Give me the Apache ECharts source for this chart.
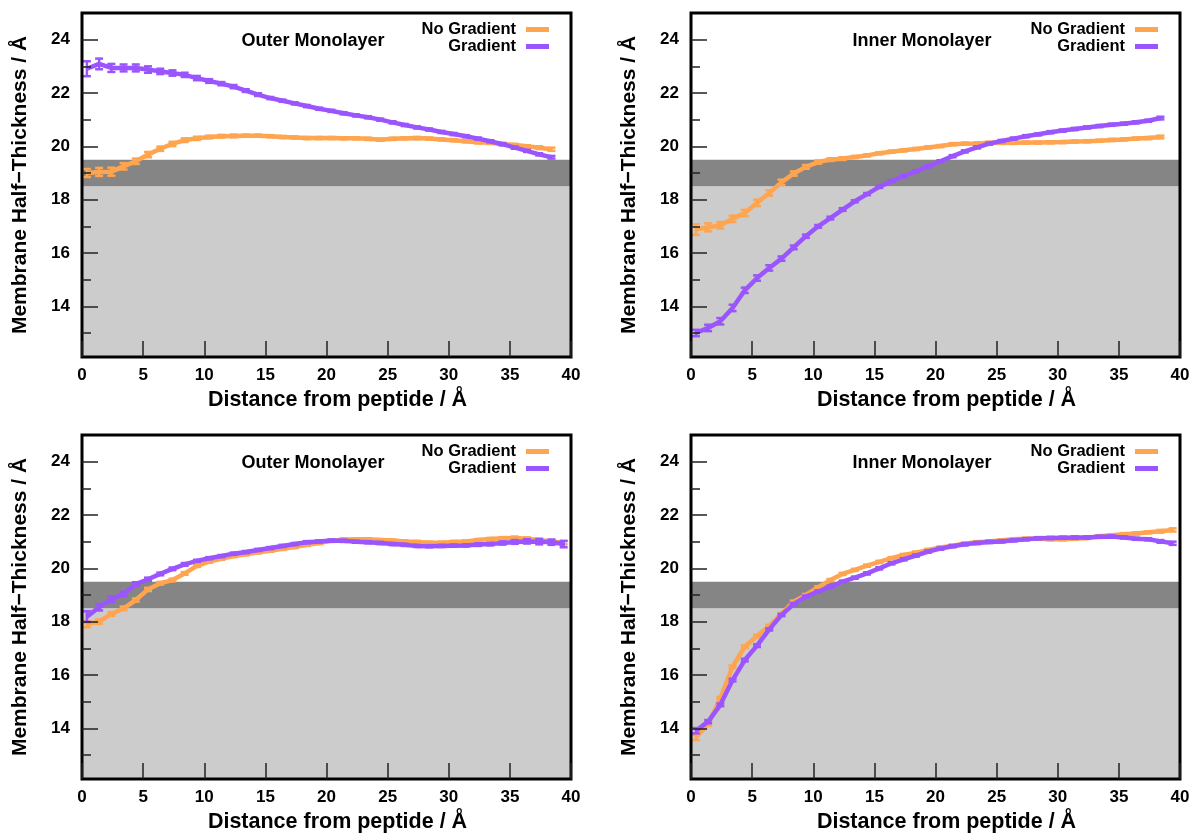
<!DOCTYPE html>
<html>
<head>
<meta charset="utf-8">
<script src="https://cdn.jsdelivr.net/npm/echarts@6/dist/echarts.min.js"></script>
<style>
  html, body { margin: 0; padding: 0; background: #fff; }
  #chart { width: 1195px; height: 836px; }
</style>
</head>
<body>
<div id="chart"></div>
<script>
// distance from peptide (Å), one point per Å
const xTop = [0.4, 1.4, 2.4, 3.4, 4.4, 5.4, 6.4, 7.4, 8.4, 9.4, 10.4, 11.4, 12.4, 13.4, 14.4, 15.4, 16.4, 17.4, 18.4, 19.4,
  20.4, 21.4, 22.4, 23.4, 24.4, 25.4, 26.4, 27.4, 28.4, 29.4, 30.4, 31.4, 32.4, 33.4, 34.4, 35.4, 36.4, 37.4, 38.4];
const xBottom = [0.4, 1.4, 2.4, 3.4, 4.4, 5.4, 6.4, 7.4, 8.4, 9.4, 10.4, 11.4, 12.4, 13.4, 14.4, 15.4, 16.4, 17.4, 18.4, 19.4,
  20.4, 21.4, 22.4, 23.4, 24.4, 25.4, 26.4, 27.4, 28.4, 29.4, 30.4, 31.4, 32.4, 33.4, 34.4, 35.4, 36.4, 37.4, 38.4, 39.4];

// top-left: outer monolayer
const outerNoGrad1 = [19.0, 19.04, 19.05, 19.25, 19.44, 19.69, 19.91, 20.09, 20.23, 20.3, 20.35, 20.38, 20.39, 20.4, 20.4,
  20.38, 20.35, 20.33, 20.31, 20.31, 20.31, 20.3, 20.3, 20.28, 20.25, 20.28, 20.3, 20.31, 20.29, 20.26, 20.23, 20.19,
  20.15, 20.13, 20.09, 20.05, 20.0, 19.95, 19.89];
const outerNoGrad1Err = [0.15, 0.15, 0.15, 0.12, 0.1, 0.1, 0.08, 0.08, 0.07, 0.06, 0.05, 0.05, 0.05, 0.04, 0.04, 0.04,
  0.04, 0.04, 0.04, 0.04, 0.04, 0.04, 0.04, 0.04, 0.04, 0.04, 0.04, 0.04, 0.04, 0.04, 0.04, 0.04, 0.04, 0.04, 0.04,
  0.04, 0.04, 0.05, 0.06];
const outerGrad1 = [22.91, 23.09, 22.94, 22.94, 22.94, 22.88, 22.81, 22.75, 22.68, 22.56, 22.45, 22.35, 22.24, 22.09,
  21.94, 21.81, 21.71, 21.61, 21.51, 21.41, 21.33, 21.24, 21.16, 21.09, 21.0, 20.9, 20.8, 20.71, 20.63, 20.54, 20.46,
  20.38, 20.29, 20.19, 20.08, 19.95, 19.83, 19.7, 19.59];
const outerGrad1Err = [0.28, 0.2, 0.15, 0.13, 0.13, 0.12, 0.1, 0.1, 0.08, 0.08, 0.07, 0.06, 0.06, 0.05, 0.05, 0.04,
  0.04, 0.04, 0.04, 0.04, 0.04, 0.04, 0.04, 0.04, 0.04, 0.04, 0.04, 0.04, 0.04, 0.04, 0.04, 0.04, 0.04, 0.04, 0.04,
  0.04, 0.04, 0.04, 0.05];

// top-right: inner monolayer
const innerNoGrad1 = [16.88, 16.96, 17.04, 17.28, 17.5, 17.88, 18.25, 18.65, 18.98, 19.23, 19.41, 19.5, 19.54, 19.6,
  19.66, 19.74, 19.8, 19.85, 19.9, 19.96, 20.01, 20.08, 20.1, 20.11, 20.13, 20.13, 20.13, 20.14, 20.14, 20.15, 20.16,
  20.18, 20.19, 20.21, 20.24, 20.26, 20.29, 20.31, 20.35];
const innerNoGrad1Err = [0.2, 0.15, 0.12, 0.12, 0.12, 0.12, 0.1, 0.1, 0.08, 0.07, 0.06, 0.05, 0.05, 0.04, 0.04, 0.04,
  0.04, 0.04, 0.04, 0.04, 0.04, 0.04, 0.04, 0.04, 0.04, 0.04, 0.04, 0.04, 0.04, 0.04, 0.04, 0.04, 0.04, 0.04, 0.04,
  0.04, 0.04, 0.04, 0.05];
const innerGrad1 = [13.0, 13.19, 13.44, 13.94, 14.6, 15.06, 15.44, 15.79, 16.21, 16.63, 17.0, 17.31, 17.63, 17.94,
  18.21, 18.48, 18.69, 18.88, 19.06, 19.25, 19.44, 19.63, 19.81, 19.96, 20.1, 20.2, 20.29, 20.38, 20.45, 20.53, 20.59,
  20.65, 20.71, 20.76, 20.81, 20.85, 20.9, 20.96, 21.06];
const innerGrad1Err = [0.12, 0.12, 0.12, 0.12, 0.1, 0.1, 0.1, 0.08, 0.07, 0.06, 0.05, 0.05, 0.05, 0.04, 0.04, 0.04,
  0.04, 0.04, 0.04, 0.04, 0.04, 0.04, 0.04, 0.04, 0.04, 0.04, 0.04, 0.04, 0.04, 0.04, 0.04, 0.04, 0.04, 0.04, 0.04,
  0.04, 0.04, 0.04, 0.05];

// bottom-left: outer monolayer
const outerNoGrad2 = [17.91, 18.0, 18.29, 18.5, 18.81, 19.21, 19.44, 19.56, 19.81, 20.09, 20.25, 20.36, 20.46, 20.53,
  20.6, 20.66, 20.73, 20.8, 20.88, 20.95, 21.03, 21.08, 21.09, 21.09, 21.06, 21.04, 21.01, 20.99, 20.96, 20.96, 20.99,
  21.01, 21.06, 21.1, 21.13, 21.14, 21.11, 21.06, 21.01, 20.96];
const outerNoGrad2Err = [0.12, 0.08, 0.07, 0.07, 0.06, 0.06, 0.05, 0.05, 0.05, 0.04, 0.04, 0.04, 0.04, 0.04, 0.04,
  0.04, 0.04, 0.04, 0.04, 0.04, 0.04, 0.04, 0.04, 0.04, 0.04, 0.04, 0.04, 0.04, 0.04, 0.04, 0.04, 0.04, 0.04, 0.04,
  0.04, 0.05, 0.05, 0.05, 0.05, 0.06];
const outerGrad2 = [18.19, 18.54, 18.84, 19.04, 19.41, 19.59, 19.79, 19.98, 20.15, 20.28, 20.38, 20.46, 20.55, 20.61,
  20.69, 20.76, 20.84, 20.91, 20.98, 21.01, 21.04, 21.03, 21.0, 20.98, 20.95, 20.91, 20.88, 20.84, 20.83, 20.84, 20.85,
  20.86, 20.89, 20.91, 20.95, 20.99, 21.01, 21.0, 20.98, 20.91];
const outerGrad2Err = [0.2, 0.12, 0.1, 0.08, 0.07, 0.06, 0.05, 0.05, 0.05, 0.04, 0.04, 0.04, 0.04, 0.04, 0.04, 0.04,
  0.04, 0.04, 0.04, 0.04, 0.04, 0.04, 0.04, 0.04, 0.04, 0.04, 0.04, 0.04, 0.04, 0.04, 0.04, 0.04, 0.05, 0.05, 0.06,
  0.07, 0.08, 0.1, 0.1, 0.12];

// bottom-right: inner monolayer
const innerNoGrad2 = [13.66, 14.16, 15.13, 16.31, 17.06, 17.46, 17.84, 18.29, 18.75, 19.0, 19.29, 19.56, 19.79, 19.94,
  20.1, 20.24, 20.38, 20.5, 20.59, 20.69, 20.78, 20.85, 20.93, 20.98, 21.01, 21.05, 21.09, 21.11, 21.11, 21.09, 21.09,
  21.11, 21.14, 21.2, 21.24, 21.28, 21.31, 21.35, 21.39, 21.44];
const innerNoGrad2Err = [0.1, 0.06, 0.05, 0.05, 0.05, 0.05, 0.04, 0.04, 0.04, 0.04, 0.04, 0.04, 0.04, 0.04, 0.04, 0.04,
  0.04, 0.04, 0.04, 0.04, 0.04, 0.04, 0.04, 0.04, 0.04, 0.04, 0.04, 0.04, 0.04, 0.04, 0.04, 0.04, 0.04, 0.04, 0.04,
  0.04, 0.04, 0.04, 0.05, 0.06];
const innerGrad2 = [13.91, 14.25, 14.88, 15.81, 16.56, 17.1, 17.71, 18.25, 18.66, 18.94, 19.13, 19.31, 19.5, 19.65,
  19.81, 20.0, 20.19, 20.34, 20.48, 20.63, 20.74, 20.83, 20.9, 20.95, 20.99, 21.01, 21.05, 21.09, 21.13, 21.14, 21.15,
  21.16, 21.16, 21.18, 21.19, 21.16, 21.11, 21.09, 21.01, 20.94];
const innerGrad2Err = [0.1, 0.06, 0.05, 0.05, 0.05, 0.05, 0.04, 0.04, 0.04, 0.04, 0.04, 0.04, 0.04, 0.04, 0.04, 0.04,
  0.04, 0.04, 0.04, 0.04, 0.04, 0.04, 0.04, 0.04, 0.04, 0.04, 0.04, 0.04, 0.04, 0.04, 0.04, 0.04, 0.04, 0.04, 0.04,
  0.04, 0.04, 0.04, 0.05, 0.06];

const yMajorTicks = [14, 16, 18, 20, 22, 24];
const yMinorTicks = [13, 15, 17, 19, 21, 23];
const bandLight = [12.1, 18.5];
const bandDark = [18.5, 19.5];

const ORANGE = '#ffa54f';
const PURPLE = '#9a55ff';
const FONT = 'Liberation Sans, Arial, Helvetica, sans-serif';

const panels = [
  { left: 82, top: 13, title: 'Outer Monolayer', x: xTop, noGrad: outerNoGrad1, noGradErr: outerNoGrad1Err, grad: outerGrad1, gradErr: outerGrad1Err },
  { left: 691, top: 13, title: 'Inner Monolayer', x: xTop, noGrad: innerNoGrad1, noGradErr: innerNoGrad1Err, grad: innerGrad1, gradErr: innerGrad1Err },
  { left: 82, top: 435, title: 'Outer Monolayer', x: xBottom, noGrad: outerNoGrad2, noGradErr: outerNoGrad2Err, grad: outerGrad2, gradErr: outerGrad2Err },
  { left: 691, top: 435, title: 'Inner Monolayer', x: xBottom, noGrad: innerNoGrad2, noGradErr: innerNoGrad2Err, grad: innerGrad2, gradErr: innerGrad2Err }
];
const W = 489, H = 344;

function errorBars(params, api) {
  const x = api.value(0), y = api.value(1), e = api.value(2);
  const lo = api.coord([x, y - e]);
  const hi = api.coord([x, y + e]);
  const c = api.visual('color');
  const cap = 4;
  const st = { stroke: c, lineWidth: 2.5 };
  return {
    type: 'group',
    children: [
      { type: 'line', shape: { x1: lo[0], y1: lo[1], x2: hi[0], y2: hi[1] }, style: st },
      { type: 'line', shape: { x1: lo[0] - cap, y1: lo[1], x2: lo[0] + cap, y2: lo[1] }, style: st },
      { type: 'line', shape: { x1: hi[0] - cap, y1: hi[1], x2: hi[0] + cap, y2: hi[1] }, style: st }
    ]
  };
}

const grid = [], xAxis = [], yAxis = [], series = [], legend = [], graphic = [];

panels.forEach((p, k) => {
  grid.push({
    left: p.left, top: p.top, width: W, height: H,
    show: true, borderColor: '#000', borderWidth: 3, backgroundColor: 'transparent', z: 10
  });
  xAxis.push({
    gridIndex: k, type: 'value', min: 0, max: 40, interval: 5,
    name: 'Distance from peptide / Å', nameLocation: 'middle', nameGap: 32,
    nameTextStyle: { fontFamily: FONT, fontWeight: 'bold', fontSize: 21.5, color: '#000', padding: [0, 0, 0, 22] },
    axisLine: { show: false },
    axisTick: { show: true, inside: true, length: 16, lineStyle: { color: '#222', width: 1.5 } },
    axisLabel: { fontFamily: FONT, fontWeight: 'bold', fontSize: 17, color: '#000', margin: 10 },
    splitLine: { show: false },
    z: 11
  });
  yAxis.push({
    gridIndex: k, type: 'value', min: 12.1, max: 25, position: 'left',
    name: 'Membrane Half\u2212Thickness / Å', nameLocation: 'middle', nameGap: 51,
    nameTextStyle: { fontFamily: FONT, fontWeight: 'bold', fontSize: 21, color: '#000' },
    axisLine: { show: false },
    axisTick: { show: true, inside: true, length: 16, customValues: yMajorTicks, lineStyle: { color: '#222', width: 1.5 } },
    axisLabel: { fontFamily: FONT, fontWeight: 'bold', fontSize: 17, color: '#000', margin: 12, customValues: yMajorTicks },
    splitLine: { show: false },
    z: 11
  });
  yAxis.push({
    gridIndex: k, type: 'value', min: 12.1, max: 25, position: 'left', offset: 0,
    axisLine: { show: false },
    axisTick: { show: true, inside: true, length: 9, customValues: yMinorTicks, lineStyle: { color: '#222', width: 1.5 } },
    axisLabel: { show: false },
    splitLine: { show: false },
    z: 11
  });
  const yi = k * 2;
  series.push({
    name: 'No Gradient', type: 'line', xAxisIndex: k, yAxisIndex: yi,
    data: p.x.map((v, i) => [v, p.noGrad[i]]),
    showSymbol: false, symbol: 'none', color: ORANGE,
    lineStyle: { width: 4.5, color: ORANGE }, z: 3,
    markArea: {
      silent: true,
      data: [
        [{ yAxis: bandLight[0], itemStyle: { color: '#cccccc', opacity: 1 } }, { yAxis: bandLight[1] }],
        [{ yAxis: bandDark[0], itemStyle: { color: '#858585', opacity: 1 } }, { yAxis: bandDark[1] }]
      ],
      z: 1
    }
  });
  series.push({
    name: 'errNo' + k, type: 'custom', xAxisIndex: k, yAxisIndex: yi, color: ORANGE,
    data: p.x.map((v, i) => [v, p.noGrad[i], p.noGradErr[i]]),
    renderItem: errorBars, z: 3, silent: true
  });
  series.push({
    name: 'Gradient', type: 'line', xAxisIndex: k, yAxisIndex: yi,
    data: p.x.map((v, i) => [v, p.grad[i]]),
    showSymbol: false, symbol: 'none', color: PURPLE,
    lineStyle: { width: 4.5, color: PURPLE }, z: 4
  });
  series.push({
    name: 'errGr' + k, type: 'custom', xAxisIndex: k, yAxisIndex: yi, color: PURPLE,
    data: p.x.map((v, i) => [v, p.grad[i], p.gradErr[i]]),
    renderItem: errorBars, z: 4, silent: true
  });
  const iconRight = 1195 - (p.left + 467);
  ['No Gradient', 'Gradient'].forEach((nm, j) => {
    legend.push({
      data: [{ name: nm, icon: 'rect' }], right: iconRight, top: p.top + 8 + j * 17,
      orient: 'vertical', align: 'right', padding: 0,
      itemWidth: 23, itemHeight: 5, selectedMode: false,
      textStyle: { fontFamily: FONT, fontWeight: 'bold', fontSize: 16.5, color: '#000', padding: [2, 5, 0, 0] }
    });
  });
  graphic.push({
    type: 'text', x: p.left + 231, y: p.top + 28, z: 20,
    style: { text: p.title, fill: '#000', font: 'bold 18px ' + FONT, align: 'center', verticalAlign: 'middle' }
  });
});

const chart = echarts.init(document.getElementById('chart'), null, { renderer: 'canvas' });
chart.setOption({
  animation: false,
  backgroundColor: '#fff',
  grid, xAxis, yAxis, series, legend, graphic
});
</script>
</body>
</html>
